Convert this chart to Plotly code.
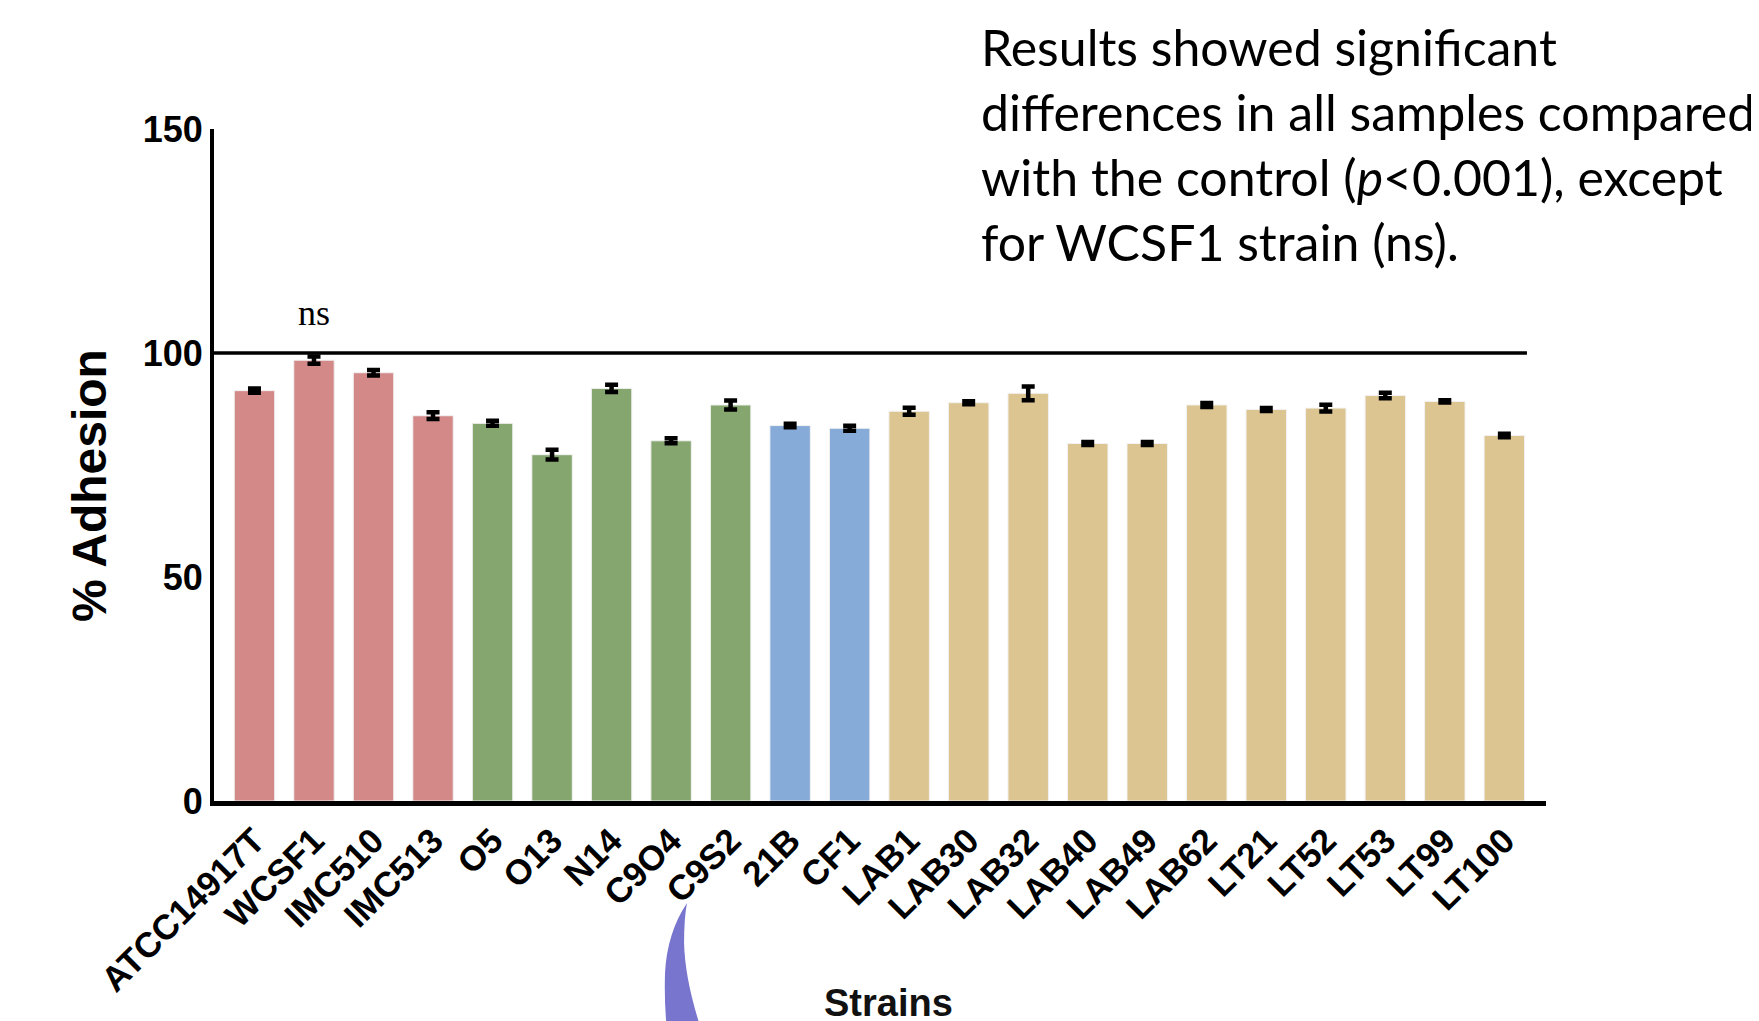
import plotly.graph_objects as go

strains = ["ATCC14917T", "WCSF1", "IMC510", "IMC513", "O5", "O13", "N14", "C9O4", "C9S2",
           "21B", "CF1", "LAB1", "LAB30", "LAB32", "LAB40", "LAB49", "LAB62", "LT21",
           "LT52", "LT53", "LT99", "LT100"]
adhesion = [91.6, 98.4, 95.6, 86.0, 84.3, 77.3, 92.1, 80.4, 88.4,
            83.8, 83.2, 87.0, 88.9, 91.0, 79.8, 79.8, 88.4, 87.4,
            87.7, 90.5, 89.2, 81.6]
sem = [0.5, 0.8, 0.6, 0.75, 0.55, 1.1, 0.8, 0.55, 1.0,
       0.4, 0.55, 0.8, 0.35, 1.55, 0.35, 0.35, 0.45, 0.35,
       0.75, 0.6, 0.25, 0.4]
groups = ["A"] * 4 + ["B"] * 5 + ["C"] * 2 + ["D"] * 11
group_colors = {"A": "#D48989", "B": "#85A66F", "C": "#87ABD8", "D": "#DCC590"}
control_value = 100
y_ticks = [0, 50, 100, 150]

W, H = 1759, 1021
L, R, T, B = 206, 221, 121, 228
pw, ph = W - L - R, H - T - B


def px(x):
    return (x - L) / pw


def py(y):
    return (H - B - y) / ph


SANS = "Liberation Sans, Arial, sans-serif"

xs = list(range(len(strains)))
fig = go.Figure()
fig.add_trace(go.Bar(
    x=xs, y=adhesion,
    marker=dict(color=[group_colors[g] for g in groups], line=dict(color="#F2F2F2", width=1)),
    error_y=dict(type="data", array=sem, visible=True, color="black", thickness=4.5, width=6.5),
    showlegend=False,
))

fig.add_shape(type="line", xref="x", yref="y", x0=-0.68, x1=21.38,
              y0=control_value, y1=control_value, line=dict(color="black", width=3.5))

fig.add_annotation(x=1, y=109, xref="x", yref="y", text="ns", showarrow=False,
                   font=dict(family="Liberation Serif", size=36, color="black"))

fig.add_annotation(x=px(81), y=py(478), xref="paper", yref="paper", text="% Adhesion",
                   textangle=-90, showarrow=False, xanchor="center", yanchor="middle",
                   font=dict(family=SANS, size=48, color="black", weight="bold"))

fig.add_annotation(x=px(880), y=py(1018), xref="paper", yref="paper", text="Strains",
                   showarrow=False, xanchor="center", yanchor="bottom",
                   font=dict(family=SANS, size=38, color="#111111", weight="bold"))

fig.add_annotation(x=px(971), y=py(7), xref="paper", yref="paper",
                   text="Results showed significant<br>differences in all samples compared<br>"
                        "with the control (<i>p</i>&lt;0.001), except<br>for WCSF1 strain (ns).",
                   showarrow=False, xanchor="left", yanchor="top", align="left",
                   font=dict(family="Lato", size=50, color="black"))

path = "M {:.4f},{:.4f} ".format(px(679), py(895))
path += "Q {:.4f},{:.4f} {:.4f},{:.4f} ".format(px(659), py(925), px(657), py(965))
path += "Q {:.4f},{:.4f} {:.4f},{:.4f} ".format(px(656), py(1000), px(660), py(1030))
path += "L {:.4f},{:.4f} ".format(px(696), py(1030))
path += "Q {:.4f},{:.4f} {:.4f},{:.4f} ".format(px(677), py(975), px(676), py(935))
path += "Q {:.4f},{:.4f} {:.4f},{:.4f} Z".format(px(676), py(910), px(679), py(895))
fig.add_shape(type="path", xref="paper", yref="paper", path=path,
              fillcolor="#7875CF", line=dict(width=0), layer="above")

fig.update_layout(
    width=W, height=H,
    margin=dict(l=L, r=R, t=T, b=B, pad=0),
    plot_bgcolor="white", paper_bgcolor="white",
    bargap=0.32,
)
fig.update_xaxes(
    range=[-0.68, 21.7], tickvals=xs, ticktext=strains, tickangle=-45,
    showline=True, linecolor="black", linewidth=5, showgrid=False, zeroline=False,
    ticks="", tickfont=dict(family=SANS, size=35, color="black", weight="bold"),
)
fig.update_yaxes(
    range=[0, 150], tickvals=y_ticks, ticktext=[str(v) for v in y_ticks],
    showline=True, linecolor="black", linewidth=4, showgrid=False, zeroline=False,
    ticks="", tickfont=dict(family=SANS, size=36, color="black", weight="bold"),
)

fig.write_html("out.html")
